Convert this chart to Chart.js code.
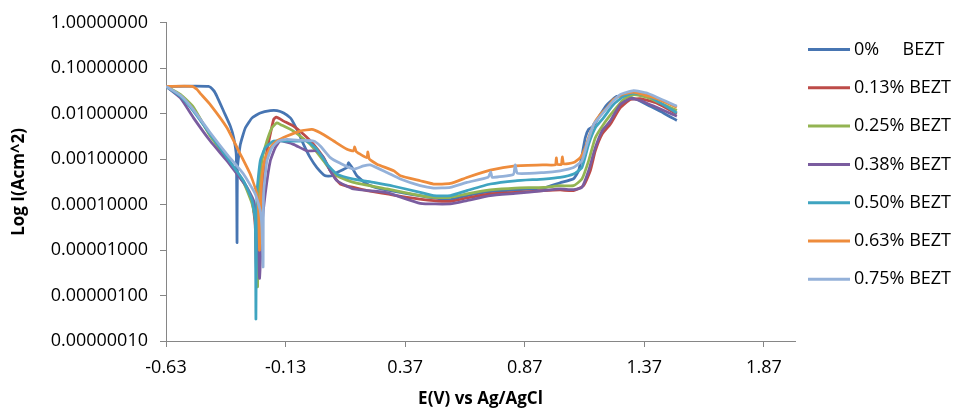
<!DOCTYPE html>
<html><head><meta charset="utf-8">
<script src="https://cdn.jsdelivr.net/npm/chart.js@4.4.1/dist/chart.umd.min.js"></script>
<style>html,body{margin:0;padding:0;background:#fff;} canvas{display:block;}</style>
</head><body>
<canvas id="c" width="954" height="411"></canvas>
<script>
// ---- data (E in V vs Ag/AgCl, I in A/cm^2) ----
const seriesNames = ['0%     BEZT', '0.13% BEZT', '0.25% BEZT', '0.38% BEZT', '0.50% BEZT', '0.63% BEZT', '0.75% BEZT'];
const xTicks = [-0.63, -0.13, 0.37, 0.87, 1.37, 1.87];
const yTicks = [1e-7, 1e-6, 1e-5, 1e-4, 1e-3, 1e-2, 1e-1, 1];

const E0 = [-0.63, -0.452, -0.430, -0.417, -0.389, -0.361, -0.347, -0.336, -0.333, -0.331, -0.319, -0.298, -0.270, -0.236, -0.194, -0.166, -0.138, -0.110, -0.097, -0.076, -0.055, -0.027, 0.001, 0.036, 0.064, 0.085, 0.127, 0.133, 0.148, 0.168, 0.210, 0.266, 0.350, 0.489, 0.559, 0.628, 0.726, 0.830, 0.949, 1.018, 1.074, 1.095, 1.109, 1.123, 1.137, 1.158, 1.186, 1.214, 1.255, 1.297, 1.339, 1.395, 1.450, 1.506];
const I0 = [4.0e-2, 4.0e-2, 3.2e-2, 2.41e-2, 1.135e-2, 5.33e-3, 2.96e-3, 1.18e-3, 1.46e-5, 6.55e-4, 2.12e-3, 4.90e-3, 8.10e-3, 1.04e-2, 1.175e-2, 1.175e-2, 1.04e-2, 8.10e-3, 6.30e-3, 3.81e-3, 2.12e-3, 1.08e-3, 6.55e-4, 4.31e-4, 4.31e-4, 5.09e-4, 6.55e-4, 8.42e-4, 6.55e-4, 4.31e-4, 2.84e-4, 2.24e-4, 1.86e-4, 1.40e-4, 1.29e-4, 1.58e-4, 1.93e-4, 2.10e-4, 2.32e-4, 3.03e-4, 3.71e-4, 5.55e-4, 1.18e-3, 2.96e-3, 4.52e-3, 5.33e-3, 9.62e-3, 1.59e-2, 2.41e-2, 2.41e-2, 2.05e-2, 1.46e-2, 1.04e-2, 7.11e-3];

const E1 = [-0.63, -0.570, -0.515, -0.445, -0.375, -0.306, -0.270, -0.257, -0.252, -0.236, -0.222, -0.208, -0.194, -0.180, -0.169, -0.138, -0.097, -0.055, -0.013, 0.029, 0.057, 0.099, 0.154, 0.210, 0.294, 0.378, 0.489, 0.559, 0.628, 0.726, 0.830, 0.949, 1.018, 1.074, 1.116, 1.144, 1.165, 1.193, 1.227, 1.269, 1.311, 1.353, 1.423, 1.506];
const I1 = [4.0e-2, 2.54e-2, 1.26e-2, 3.40e-3, 1.07e-3, 3.19e-4, 1.23e-4, 3.48e-5, 4.0e-6, 7.41e-5, 3.96e-4, 1.52e-3, 3.52e-3, 7.48e-3, 8.39e-3, 6.87e-3, 5.33e-3, 3.52e-3, 2.12e-3, 1.08e-3, 5.55e-4, 2.84e-4, 2.39e-4, 2.03e-4, 1.72e-4, 1.45e-4, 1.23e-4, 1.18e-4, 1.40e-4, 1.72e-4, 1.86e-4, 2.03e-4, 2.10e-4, 2.03e-4, 2.61e-4, 5.55e-4, 1.52e-3, 3.52e-3, 5.81e-3, 1.34e-2, 2.05e-2, 2.15e-2, 1.70e-2, 9.91e-3];

const E2 = [-0.63, -0.570, -0.515, -0.445, -0.375, -0.306, -0.270, -0.250, -0.247, -0.243, -0.229, -0.208, -0.187, -0.166, -0.152, -0.097, -0.027, 0.029, 0.071, 0.154, 0.294, 0.433, 0.489, 0.559, 0.628, 0.726, 0.830, 0.949, 1.018, 1.074, 1.109, 1.137, 1.165, 1.199, 1.241, 1.283, 1.325, 1.381, 1.506];
const I2 = [4.0e-2, 2.67e-2, 1.39e-2, 3.23e-3, 1.0e-3, 3.08e-4, 1.04e-4, 3.20e-5, 1.56e-6, 1.72e-4, 9.17e-4, 2.51e-3, 4.90e-3, 6.30e-3, 5.81e-3, 4.15e-3, 2.12e-3, 9.17e-4, 4.70e-4, 3.08e-4, 2.21e-4, 1.58e-4, 1.45e-4, 1.45e-4, 1.72e-4, 2.10e-4, 2.32e-4, 2.39e-4, 2.61e-4, 2.61e-4, 3.65e-4, 9.17e-4, 2.96e-3, 5.81e-3, 1.135e-2, 2.05e-2, 2.63e-2, 2.30e-2, 1.175e-2];

const E3 = [-0.63, -0.570, -0.515, -0.445, -0.375, -0.333, -0.291, -0.264, -0.250, -0.239, -0.229, -0.215, -0.194, -0.173, -0.152, -0.097, -0.041, 0.001, 0.029, 0.057, 0.085, 0.154, 0.294, 0.433, 0.559, 0.628, 0.726, 0.830, 0.949, 1.018, 1.074, 1.109, 1.137, 1.165, 1.193, 1.227, 1.269, 1.311, 1.353, 1.506];
const I3 = [4.0e-2, 2.22e-2, 8.10e-3, 2.51e-3, 9.17e-4, 4.70e-4, 2.39e-4, 1.23e-4, 5.29e-5, 2.38e-6, 3.20e-5, 1.72e-4, 9.17e-4, 1.79e-3, 2.51e-3, 2.12e-3, 1.52e-3, 1.52e-3, 1.08e-3, 5.55e-4, 3.35e-4, 2.21e-4, 1.83e-4, 1.07e-4, 1.04e-4, 1.23e-4, 1.58e-4, 1.77e-4, 2.03e-4, 2.21e-4, 2.13e-4, 2.39e-4, 5.55e-4, 1.79e-3, 4.15e-3, 6.87e-3, 1.59e-2, 2.15e-2, 1.95e-2, 8.83e-3];

const E4 = [-0.63, -0.570, -0.515, -0.445, -0.375, -0.306, -0.270, -0.257, -0.254, -0.250, -0.236, -0.215, -0.180, -0.138, -0.069, -0.041, 0.001, 0.043, 0.085, 0.154, 0.238, 0.322, 0.433, 0.489, 0.559, 0.628, 0.726, 0.830, 0.949, 1.018, 1.074, 1.109, 1.137, 1.165, 1.199, 1.241, 1.283, 1.325, 1.381, 1.506];
const I4 = [4.0e-2, 2.41e-2, 1.135e-2, 3.52e-3, 1.08e-3, 3.35e-4, 1.23e-4, 4.48e-5, 3.03e-7, 1.72e-4, 9.17e-4, 1.79e-3, 2.51e-3, 2.51e-3, 2.51e-3, 2.51e-3, 1.65e-3, 7.76e-4, 4.70e-4, 3.65e-4, 3.08e-4, 2.54e-4, 1.86e-4, 1.58e-4, 1.58e-4, 2.03e-4, 2.84e-4, 3.35e-4, 3.65e-4, 3.96e-4, 4.70e-4, 6.55e-4, 2.12e-3, 4.90e-3, 8.10e-3, 1.59e-2, 2.41e-2, 2.85e-2, 2.54e-2, 1.04e-2];

const E5 = [-0.63, -0.521, -0.500, -0.487, -0.445, -0.375, -0.319, -0.278, -0.250, -0.243, -0.239, -0.234, -0.229, -0.215, -0.194, -0.166, -0.124, -0.069, -0.020, 0.015, 0.071, 0.127, 0.154, 0.159, 0.166, 0.210, 0.214, 0.220, 0.252, 0.322, 0.350, 0.433, 0.489, 0.559, 0.628, 0.726, 0.830, 0.949, 0.998, 1.002, 1.006, 1.023, 1.027, 1.033, 1.074, 1.102, 1.123, 1.137, 1.158, 1.186, 1.214, 1.241, 1.283, 1.325, 1.367, 1.423, 1.506];
const I5 = [4.0e-2, 4.0e-2, 3.4e-2, 2.81e-2, 1.59e-2, 4.90e-3, 1.28e-3, 4.70e-4, 1.72e-4, 7.41e-5, 9.9e-6, 1.23e-4, 3.96e-4, 1.08e-3, 1.79e-3, 2.51e-3, 3.23e-3, 4.15e-3, 4.52e-3, 3.81e-3, 2.51e-3, 1.65e-3, 1.52e-3, 1.85e-3, 1.45e-3, 1.08e-3, 1.44e-3, 1.01e-3, 7.76e-4, 5.55e-4, 4.31e-4, 3.35e-4, 2.84e-4, 2.92e-4, 3.96e-4, 5.74e-4, 7.13e-4, 7.49e-4, 7.49e-4, 1.07e-3, 7.69e-4, 7.69e-4, 1.12e-3, 7.89e-4, 8.42e-4, 1.08e-3, 1.79e-3, 2.96e-3, 5.81e-3, 9.62e-3, 1.34e-2, 2.05e-2, 2.71e-2, 3.0e-2, 2.63e-2, 2.15e-2, 1.39e-2];

const E6 = [-0.63, -0.570, -0.515, -0.445, -0.375, -0.306, -0.257, -0.236, -0.229, -0.224, -0.222, -0.208, -0.187, -0.159, -0.124, -0.069, -0.013, 0.015, 0.057, 0.099, 0.154, 0.196, 0.224, 0.294, 0.350, 0.433, 0.489, 0.559, 0.628, 0.717, 0.728, 0.734, 0.822, 0.830, 0.839, 0.949, 1.018, 1.074, 1.109, 1.130, 1.158, 1.186, 1.227, 1.269, 1.325, 1.381, 1.506];
const I6 = [4.0e-2, 2.54e-2, 1.22e-2, 3.81e-3, 1.28e-3, 4.70e-4, 1.72e-4, 7.41e-5, 3.20e-5, 4.27e-6, 1.72e-4, 9.17e-4, 1.79e-3, 2.51e-3, 2.73e-3, 2.60e-3, 2.51e-3, 1.95e-3, 1.08e-3, 8.09e-4, 6.04e-4, 7.13e-4, 7.49e-4, 5.09e-4, 3.65e-4, 2.61e-4, 2.32e-4, 2.39e-4, 3.08e-4, 4.0e-4, 5.27e-4, 4.0e-4, 4.60e-4, 7.49e-4, 4.89e-4, 5.09e-4, 5.55e-4, 6.55e-4, 9.17e-4, 2.12e-3, 5.81e-3, 8.83e-3, 1.59e-2, 2.63e-2, 3.22e-2, 2.85e-2, 1.46e-2];

// ---- styles ----
const colors = ['#4775B2', '#BD4B48', '#93B452', '#7A5C9F', '#3FA4C0', '#EE8C3C', '#94B1D9'];
const FONT = 'Open Sans';
const AXIS = '#868686';

const Es = [E0, E1, E2, E3, E4, E5, E6];
const Is = [I0, I1, I2, I3, I4, I5, I6];

const datasets = seriesNames.map((name, k) => ({
  label: name,
  data: Es[k].map((e, i) => ({x: e, y: Is[k][i]})),
  borderColor: colors[k],
  backgroundColor: colors[k],
  borderWidth: 2.75,
  pointRadius: 0,
  tension: 0.15,
  fill: false,
  order: seriesNames.length - k
}));

const sideLegend = {
  id: 'sideLegend',
  afterDraw(chart) {
    const ctx = chart.ctx;
    ctx.save();
    ctx.font = '18px "' + FONT + '"';
    ctx.textBaseline = 'middle';
    ctx.textAlign = 'left';
    chart.data.datasets.forEach((ds, i) => {
      const y = 49.5 + i * 38.3;
      ctx.strokeStyle = ds.borderColor;
      ctx.lineWidth = 3;
      ctx.beginPath(); ctx.moveTo(808, y); ctx.lineTo(850, y); ctx.stroke();
      ctx.fillStyle = '#000';
      ctx.fillText(ds.label, 854, y);
    });
    ctx.restore();
  }
};

new Chart(document.getElementById('c'), {
  type: 'line',
  data: { datasets },
  plugins: [sideLegend],
  options: {
    responsive: false,
    animation: false,
    devicePixelRatio: 1,
    layout: { padding: { top: 21, right: 159, bottom: 0, left: 0 } },
    plugins: { legend: { display: false }, tooltip: { enabled: false } },
    scales: {
      x: {
        type: 'linear', min: -0.63, max: 2.0,
        afterBuildTicks: s => { s.ticks = xTicks.map(v => ({ value: v })); },
        afterFit: s => { s.height = 70; },
        ticks: { callback: v => Number(v).toFixed(2), font: { family: FONT, size: 18 }, color: '#000', padding: 10, maxRotation: 0, autoSkip: false },
        grid: { drawOnChartArea: false, drawTicks: true, tickLength: 6, color: AXIS },
        border: { display: true, color: AXIS, width: 1 },
        title: { display: true, text: 'E(V) vs Ag/AgCl', font: { family: FONT, size: 17, weight: 'bold' }, color: '#000', padding: { top: 0, bottom: 2 } }
      },
      y: {
        type: 'logarithmic', min: 1e-7, max: 1,
        afterBuildTicks: s => { s.ticks = yTicks.map(v => ({ value: v })); },
        afterFit: s => { s.width = 166; },
        ticks: { callback: v => Number(v).toFixed(8), font: { family: FONT, size: 18 }, color: '#000', padding: 12, autoSkip: false },
        grid: { drawOnChartArea: false, drawTicks: true, tickLength: 6, color: AXIS },
        border: { display: true, color: AXIS, width: 1 },
        title: { display: true, text: 'Log I(Acm^2)', font: { family: FONT, size: 17, weight: 'bold' }, color: '#000', padding: { top: 9, bottom: 0 } }
      }
    }
  }
});
</script>
</body></html>
